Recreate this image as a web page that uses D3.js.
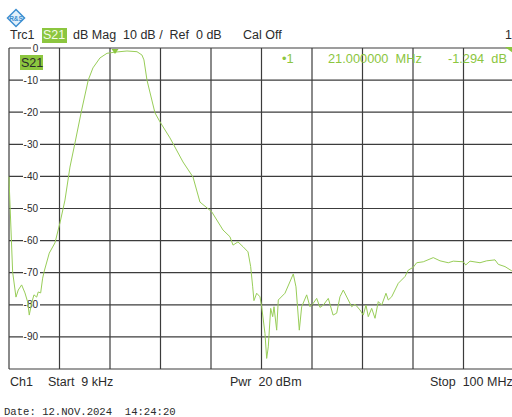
<!DOCTYPE html>
<html>
<head>
<meta charset="utf-8">
<script src="https://cdn.jsdelivr.net/npm/d3@7"></script>
<style>
  body { margin: 0; background: #fff; }
  svg text { font-family: "Liberation Sans", Arial, sans-serif; }
</style>
</head>
<body>
<div id="chart"></div>
<script>
// trace S21, frequency in MHz, magnitude in dB
var freqMHz = [0.009, 0.06, 0.73, 1.39, 1.84, 2.51, 3.17, 3.70, 4.02, 4.50, 4.95, 5.49, 5.80, 6.28, 6.67, 6.99,
    7.98, 9.11, 10.10, 11.09, 12.08, 13.07, 14.40, 15.70, 16.63, 18.02, 19.41, 21.0, 23.37, 25.35, 26.34, 26.73,
    27.33, 28.91, 29.90, 31.88, 34.46, 36.44, 37.82, 40.14, 42.38, 43.76, 44.36, 45.35, 46.34, 47.33, 47.86,
    48.26, 48.51, 49.05, 49.70, 50.04, 50.69, 51.03, 51.35, 51.82, 52.22, 52.48, 53.01, 53.33, 54.65, 56.30,
    56.83, 57.49, 57.96, 58.95, 59.60, 60.26, 60.93, 61.58, 62.24, 63.23, 64.18, 64.89, 65.54, 66.20, 67.19,
    67.86, 68.51, 69.50, 70.16, 70.69, 71.15, 71.82, 72.48, 73.13, 73.80, 74.65, 75.11, 75.78, 77.09, 78.42,
    79.07, 80.06, 80.73, 82.04, 84.02, 85.35, 86.99, 87.98, 89.96, 90.44, 91.29, 93.27, 94.59, 96.24, 96.89,
    98.22, 99.54, 100];
var magDb = [-40.1, -42.7, -69.8, -77.6, -75.4, -73.8, -76.3, -79.1, -83.2, -79.4, -76.9, -77.6, -76.0, -76.3, -71.7, -69.5,
    -63.9, -60.7, -54.5, -47.4, -37.1, -29.6, -19.3, -10.0, -6.2, -3.1, -1.65, -1.294, -0.93, -1.15, -2.2, -3.7,
    -10.0, -20.2, -23.0, -28.0, -35.5, -40.2, -48.0, -51.0, -56.7, -58.8, -61.4, -60.4, -61.9, -63.5, -68.1,
    -74.4, -78.7, -76.4, -77.5, -80.6, -88.9, -96.7, -93.1, -81.1, -83.7, -80.6, -87.9, -78.5, -76.4, -70.4,
    -74.4, -87.9, -80.6, -76.9, -80.6, -79.5, -78.0, -80.8, -80.1, -78.0, -83.2, -82.6, -77.5, -75.4, -78.5,
    -80.6, -79.8, -81.6, -83.2, -80.1, -83.7, -81.1, -84.2, -79.0, -80.1, -76.4, -78.5, -77.5, -73.3, -71.2,
    -69.2, -68.3, -66.9, -66.6, -65.3, -66.3, -66.9, -66.4, -66.6, -67.6, -66.4, -66.9, -66.3, -66.0, -67.4,
    -68.1, -69.4, -69.8];

var yTicks = [-10, -20, -30, -40, -50, -60, -70, -80, -90];
var startMHz = 0.009, stopMHz = 100, refDb = 0, bottomDb = -100;
var markerMHz = 21.0, markerDb = -1.294;

var W = 512, H = 417;
var plotLeft = 9, plotRight = 514, plotTop = 48, plotBottom = 369;
var green = '#8cc63f';
var traceColor = '#98cd58';
var gridColor = '#3c3c3c';
var textColor = '#2b2b2b';

var svg = d3.select('#chart').append('svg')
    .attr('width', W)
    .attr('height', H);

var x = d3.scaleLinear().domain([startMHz, stopMHz]).range([plotLeft, plotRight]);
var y = d3.scaleLinear().domain([bottomDb, refDb]).range([plotBottom, plotTop]);

// logo
var logo = svg.append('g').attr('transform', 'translate(16,18)');
logo.append('path')
    .attr('d', 'M0,-8.5 L8.5,0 L0,8.5 L-8.5,0 Z')
    .attr('fill', '#e2f0fa')
    .attr('stroke', '#3d8fd1')
    .attr('stroke-width', 1.5);
logo.append('text')
    .attr('x', 0).attr('y', 2.5)
    .attr('text-anchor', 'middle')
    .style('font-size', '6.5px')
    .style('font-weight', 'bold')
    .style('fill', '#3d8fd1')
    .text('R&S');

// header line
var hy = 39;
var hs = '12.5px';
svg.append('text').attr('x', 10).attr('y', hy).style('font-size', hs).style('fill', textColor).text('Trc1');
svg.append('rect').attr('x', 42).attr('y', 28).attr('width', 25).attr('height', 15).attr('fill', green);
svg.append('text').attr('x', 43).attr('y', hy).style('font-size', hs).style('fill', '#f4fbe9').text('S21');
svg.append('text').attr('x', 73).attr('y', hy).style('font-size', hs).style('fill', textColor)
    .attr('xml:space', 'preserve').text('dB Mag  10 dB /  Ref  0 dB');
svg.append('text').attr('x', 243).attr('y', hy).style('font-size', hs).style('fill', textColor).text('Cal Off');
svg.append('text').attr('x', 505).attr('y', hy).style('font-size', hs).style('fill', textColor).text('1');

// grid
var vLines = d3.range(11).map(function(i) { return startMHz + i * (stopMHz - startMHz) / 10; });
var hLines = d3.range(bottomDb, refDb + 1, 10);

svg.append('g').selectAll('line')
    .data(vLines)
    .enter().append('line')
    .attr('x1', function(d) { return x(d); })
    .attr('x2', function(d) { return x(d); })
    .attr('y1', plotTop).attr('y2', plotBottom)
    .attr('stroke', gridColor)
    .attr('stroke-width', 1.2);

svg.append('g').selectAll('line')
    .data(hLines)
    .enter().append('line')
    .attr('x1', plotLeft).attr('x2', plotRight)
    .attr('y1', function(d) { return y(d); })
    .attr('y2', function(d) { return y(d); })
    .attr('stroke', gridColor)
    .attr('stroke-width', 1.2);

// y labels, with white behind them so they cut the grid line
var labels = svg.append('g');
yTicks.forEach(function(d) {
    labels.append('rect')
        .attr('x', 23).attr('y', y(d) - 5)
        .attr('width', 17).attr('height', 10)
        .attr('fill', '#fff');
    labels.append('text')
        .attr('x', 38).attr('y', y(d) + 3.5)
        .attr('text-anchor', 'end')
        .style('font-size', '10px')
        .style('fill', textColor)
        .text(d);
});
labels.append('rect').attr('x', 31).attr('y', y(0) - 5).attr('width', 9).attr('height', 10).attr('fill', '#fff');
labels.append('text')
    .attr('x', 35.5).attr('y', y(0) + 3.5)
    .attr('text-anchor', 'middle')
    .style('font-size', '10px')
    .style('fill', textColor)
    .text('0');

// trace
var points = freqMHz.map(function(f, i) { return [f, magDb[i]]; });
var line = d3.line()
    .x(function(d) { return x(d[0]); })
    .y(function(d) { return y(d[1]); });

svg.append('path')
    .datum(points)
    .attr('d', line)
    .attr('fill', 'none')
    .attr('stroke', traceColor)
    .attr('stroke-width', 1);

// trace label inside plot
svg.append('rect').attr('x', 20).attr('y', 55).attr('width', 23).attr('height', 15).attr('fill', green);
svg.append('text').attr('x', 21).attr('y', 67).style('font-size', hs).style('fill', textColor).text('S21');

// marker
var mx = x(markerMHz);
svg.append('path')
    .attr('d', 'M' + (mx - 3.5) + ',' + (plotTop + 1) + ' L' + (mx + 3.5) + ',' + (plotTop + 1) + ' L' + mx + ',' + (plotTop + 6) + ' Z')
    .attr('fill', green);
svg.append('path')
    .attr('d', 'M505,' + (plotTop - 1) + ' L513,' + (plotTop - 1) + ' L513,' + (plotTop + 5) + ' Z')
    .attr('fill', green);

var my = 63;
var ms = '12.8px';
svg.append('text').attr('x', 282).attr('y', my).style('font-size', ms).style('fill', green).text('\u20221');
svg.append('text').attr('x', 328).attr('y', my).style('font-size', ms).style('fill', green)
    .attr('xml:space', 'preserve').text(markerMHz.toFixed(6) + '  MHz');
svg.append('text').attr('x', 507).attr('y', my).attr('text-anchor', 'end').style('font-size', ms).style('fill', green)
    .attr('xml:space', 'preserve').text(markerDb.toFixed(3) + '  dB');

// footer
var fy = 386;
svg.append('text').attr('x', 10).attr('y', fy).style('font-size', '12.5px').style('fill', textColor).text('Ch1');
svg.append('text').attr('x', 48).attr('y', fy).style('font-size', '12.5px').style('fill', textColor)
    .attr('xml:space', 'preserve').text('Start  9 kHz');
svg.append('text').attr('x', 230).attr('y', fy).style('font-size', '12.5px').style('fill', textColor)
    .attr('xml:space', 'preserve').text('Pwr  20 dBm');
svg.append('text').attr('x', 430).attr('y', fy).style('font-size', '12.5px').style('fill', textColor)
    .attr('xml:space', 'preserve').text('Stop  100 MHz');

svg.append('text').attr('x', 4).attr('y', 415)
    .style('font-family', '"Liberation Mono", monospace')
    .style('font-size', '10.6px')
    .style('fill', textColor)
    .attr('xml:space', 'preserve')
    .text('Date: 12.NOV.2024  14:24:20');
</script>
</body>
</html>
